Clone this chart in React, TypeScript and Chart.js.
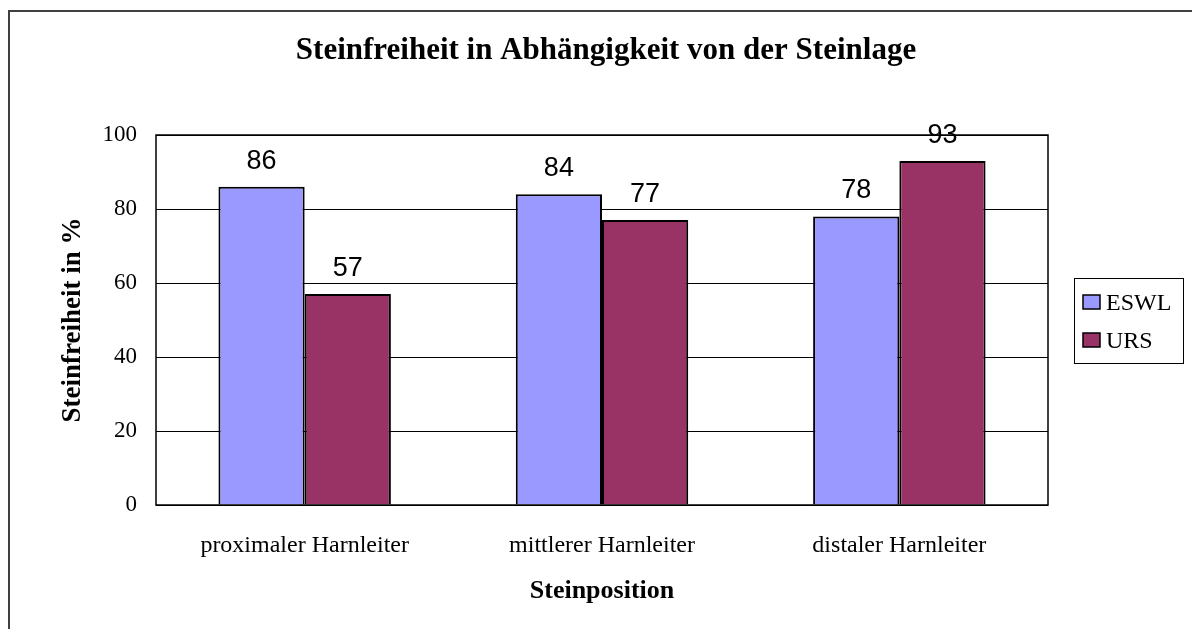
import React, { useEffect, useRef } from "react";
import { Chart, registerables } from "chart.js";

Chart.register(...registerables);

const categories = ["proximaler Harnleiter", "mittlerer Harnleiter", "distaler Harnleiter"];
const seriesNames = ["ESWL", "URS"];
const eswlValues = [86, 84, 78];
const ursValues = [57, 77, 93];
const seriesColors = ["#9999FF", "#993366"];
const yMin = 0;
const yMax = 100;
const yStep = 20;
const chartTitle = "Steinfreiheit in Abhängigkeit von der Steinlage";
const xTitle = "Steinposition";
const yTitle = "Steinfreiheit in %";

const SERIF = "'Liberation Serif', 'Times New Roman', serif";
const SANS = "'Liberation Sans', Arial, sans-serif";

const decorPlugin = {
  id: "decor",
  beforeDraw(chart: any) {
    const ctx = chart.ctx;
    ctx.save();
    ctx.fillStyle = "#ffffff";
    ctx.fillRect(0, 0, chart.width, chart.height);
    ctx.restore();
  },
  afterDatasetsDraw(chart: any) {
    const ctx = chart.ctx;
    ctx.save();
    ctx.font = `27px ${SANS}`;
    ctx.fillStyle = "#000";
    ctx.textAlign = "center";
    ctx.textBaseline = "alphabetic";
    chart.data.datasets.forEach((ds: any, di: number) => {
      const meta = chart.getDatasetMeta(di);
      meta.data.forEach((bar: any, i: number) => {
        ctx.fillText(String(ds.data[i]), bar.x, bar.y - 18);
      });
    });
    ctx.restore();
  },
  afterDraw(chart: any) {
    const ctx = chart.ctx;
    const a = chart.chartArea;
    ctx.save();
    // outer chart border (extends beyond the visible crop)
    ctx.strokeStyle = "#404040";
    ctx.lineWidth = 2;
    ctx.strokeRect(9, 11, 1400, 800);
    // plot area frame
    ctx.strokeStyle = "#000";
    ctx.lineWidth = 1.5;
    ctx.strokeRect(a.left, a.top, a.right - a.left, a.bottom - a.top);
    // title
    ctx.fillStyle = "#000";
    ctx.font = `bold 31px ${SERIF}`;
    ctx.textAlign = "center";
    ctx.textBaseline = "alphabetic";
    ctx.fillText(chartTitle, 606, 59);
    // legend
    const lx = 1074, ly = 278, lw = 109, lh = 85;
    ctx.lineWidth = 1;
    ctx.strokeStyle = "#000";
    ctx.strokeRect(lx + 0.5, ly + 0.5, lw, lh);
    ctx.font = `24px ${SERIF}`;
    ctx.textAlign = "left";
    ctx.textBaseline = "alphabetic";
    chart.data.datasets.forEach((ds: any, di: number) => {
      const base = 310 + di * 38;
      ctx.fillStyle = ds.backgroundColor;
      ctx.fillRect(1083, base - 15, 17, 14);
      ctx.lineWidth = 1.5;
      ctx.strokeStyle = "#000";
      ctx.strokeRect(1083, base - 15, 17, 14);
      ctx.fillStyle = "#000";
      ctx.fillText(ds.label, 1106, base);
    });
    ctx.restore();
  },
};

export default function App() {
  const ref = useRef<HTMLCanvasElement | null>(null);
  useEffect(() => {
    if (!ref.current) return;
    const chart = new Chart(ref.current, {
      type: "bar",
      data: {
        labels: categories,
        datasets: [
          {
            label: seriesNames[0],
            data: eswlValues,
            backgroundColor: seriesColors[0],
            borderColor: "#000",
            borderWidth: 2,
            categoryPercentage: 0.58,
            barPercentage: 1,
          },
          {
            label: seriesNames[1],
            data: ursValues,
            backgroundColor: seriesColors[1],
            borderColor: "#000",
            borderWidth: 2,
            categoryPercentage: 0.58,
            barPercentage: 1,
          },
        ],
      },
      options: {
        animation: false,
        responsive: false,
        devicePixelRatio: 1,
        layout: { padding: { top: 135, right: 144, left: 0, bottom: 22 } },
        plugins: {
          legend: { display: false },
          title: { display: false },
          tooltip: { enabled: false },
        },
        scales: {
          x: {
            grid: { display: false, drawTicks: false },
            border: { display: false },
            ticks: { color: "#000", font: { family: SERIF, size: 24 }, padding: 26 },
            title: {
              display: true,
              text: xTitle,
              color: "#000",
              font: { family: SERIF, size: 26, weight: "bold" },
              padding: { top: 0, bottom: 0 },
            },
            afterFit(scale: any) {
              scale.height = 102;
            },
          },
          y: {
            min: yMin,
            max: yMax,
            ticks: { stepSize: yStep, color: "#000", font: { family: SERIF, size: 23 }, padding: 19 },
            grid: { color: "#000", lineWidth: 1, drawTicks: false },
            border: { display: false },
            title: {
              display: true,
              text: yTitle,
              color: "#000",
              font: { family: SERIF, size: 27, weight: "bold" },
              padding: { top: 57, bottom: 0 },
            },
            afterFit(scale: any) {
              scale.width = 156;
            },
          },
        },
      },
      plugins: [decorPlugin],
    });
    return () => chart.destroy();
  }, []);
  return (
    <div style={{ position: "fixed", left: 0, top: 0, width: 1192, height: 629 }}>
      <canvas ref={ref} width={1192} height={629} style={{ width: 1192, height: 629, display: "block" }} />
    </div>
  );
}
